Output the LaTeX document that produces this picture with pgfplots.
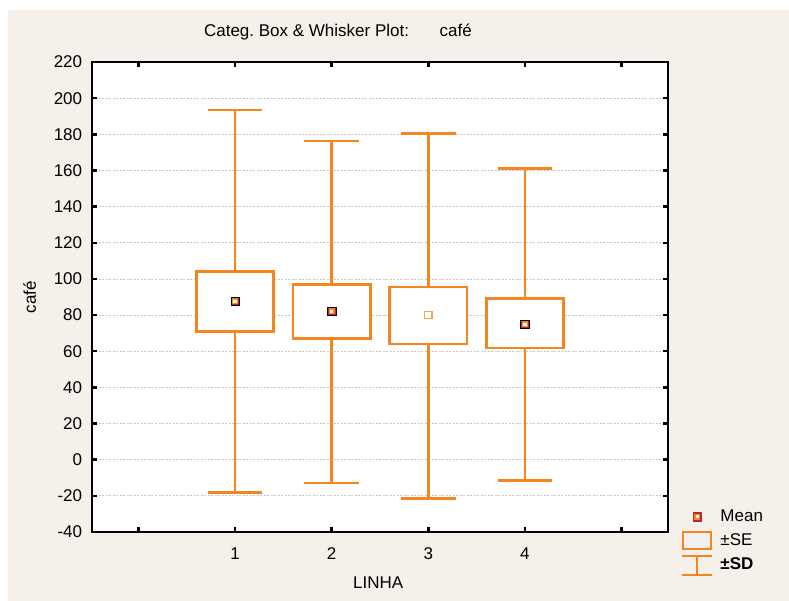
\documentclass[border=0pt]{standalone}
\usepackage{fontspec}
\setmainfont{Liberation Sans}
\usepackage{pgfplots}
\usepackage{pgfplotstable}
\pgfplotsset{compat=1.18}
\definecolor{boxorange}{RGB}{245,134,31}
\definecolor{meanred}{RGB}{185,40,48}
\definecolor{bgbeige}{RGB}{245,240,234}
\definecolor{gridgray}{RGB}{200,200,200}
\pgfplotstableread{
pos lw lq mean uq uw
1 -18.1 70.8 87.6 104.2 193.5
2 -12.8 67.2 82.1 97.0 176.4
3 -21.4 64.0 80.0 95.5 180.3
4 -11.4 61.7 75.0 89.2 161.2
}\cafe
\begin{document}
\frenchspacing
\fontsize{17}{20}\selectfont
\begin{tikzpicture}
\fill[white] (-92pt,-69pt) rectangle (697pt,532pt);
\fill[bgbeige] (-84pt,-69pt) rectangle (697pt,522pt);
\begin{axis}[
  at={(0pt,0pt)}, anchor=south west,
  scale only axis, width=576pt, height=470pt,
  xmin=-0.48, xmax=5.48, ymin=-40, ymax=220,
  xtick={0,1,2,3,4,5}, xticklabels={,1,2,3,4,},
  ytick={-40,-20,0,20,40,60,80,100,120,140,160,180,200,220},
  tick align=inside, major tick length=5pt,
  tick style={black, line width=2.4pt},
  axis line style={line width=2.4pt, black},
  ymajorgrids, grid style={gridgray, dash pattern=on 2pt off 1.5pt, line width=0.7pt},
  axis background/.style={fill=white},
  /pgf/number format/assume math mode=true,
  yticklabel style={xshift=-4pt},
  xticklabel style={yshift=-10pt},
  xlabel={LINHA}, ylabel={café},
  xlabel style={at={(axis description cs:0.497,-0.108)}, anchor=center},
  ylabel style={at={(axis description cs:-0.108,0.5)}, anchor=center},
  title={Categ. Box \& Whisker Plot:\hspace{1.8em}café},
  title style={at={(axis description cs:0.427,1.051)}, anchor=center, yshift=0pt},
  legend style={draw=none, fill=none, at={(axis description cs:1.022,0.052)}, anchor=north west,
    row sep=4.5pt, column sep=5pt, inner sep=0pt, cells={anchor=west}},
  legend cell align=left,
]
% whiskers (mean +/- SD)
\addplot[draw=none, mark=none, forget plot,
  error bars/.cd, y dir=both, y explicit,
  error bar style={boxorange, line width=2.6pt, solid},
  error mark=-, error mark options={boxorange, line width=2.6pt, mark size=27.3pt, rotate=90}]
  table[x=pos, y=mean, y error plus expr=\thisrow{uw}-\thisrow{mean},
        y error minus expr=\thisrow{mean}-\thisrow{lw}] {\cafe};
% boxes (mean +/- SE)
\addplot[draw=boxorange, fill=white, line width=2.6pt, line cap=rect, line join=miter, forget plot]
  coordinates {(0.6,70.8) (1.4,70.8) (1.4,104.2) (0.6,104.2) (0.6,70.8)};
\addplot[draw=boxorange, fill=white, line width=2.6pt, line cap=rect, line join=miter, forget plot]
  coordinates {(1.6,67.2) (2.4,67.2) (2.4,97.0) (1.6,97.0) (1.6,67.2)};
\addplot[draw=boxorange, fill=white, line width=2.6pt, line cap=rect, line join=miter, forget plot]
  coordinates {(2.6,64.0) (3.4,64.0) (3.4,95.5) (2.6,95.5) (2.6,64.0)};
\addplot[draw=boxorange, fill=white, line width=2.6pt, line cap=rect, line join=miter, forget plot]
  coordinates {(3.6,61.7) (4.4,61.7) (4.4,89.2) (3.6,89.2) (3.6,61.7)};
% means
\addplot[only marks, mark=square*, mark size=4.3pt, mark options={fill=meanred, draw=none},
  skip coords between index={2}{3}, forget plot] table[x=pos, y=mean] {\cafe};
\addplot[only marks, mark=square*, mark size=2.2pt, mark options={fill=white, draw=boxorange, line width=1.3pt},
  skip coords between index={2}{3}, forget plot] table[x=pos, y=mean] {\cafe};
\addplot[only marks, mark=square*, mark size=3.6pt, mark options={fill=white, draw=boxorange!75, line width=1.5pt},
  skip coords between index={0}{2}, skip coords between index={3}{4}, forget plot] table[x=pos, y=mean] {\cafe};
\addlegendimage{legend image code/.code={
  \fill[meanred] (11.7pt,-4.3pt) rectangle (20.3pt,4.3pt);
  \filldraw[fill=white, draw=boxorange, line width=1.3pt] (13.9pt,-2.1pt) rectangle (18.1pt,2.1pt);
  \path[draw=none, fill=none] (1pt,0pt) -- (31pt,0pt);}}
\addlegendentry{Mean}
\addlegendimage{legend image code/.code={
  \filldraw[fill=gray!12, draw=boxorange, line width=2.6pt] (2pt,-8pt) rectangle (30pt,9pt);}}
\addlegendentry{±SE}
\addlegendimage{legend image code/.code={
  \draw[boxorange, line width=2.6pt] (16pt,-10pt) -- (16pt,9pt)
    (1pt,9pt) -- (31pt,9pt) (1pt,-10pt) -- (31pt,-10pt);}}
\addlegendentry{\textbf{±SD}}
\end{axis}
\pgfresetboundingbox
\path (-92pt,-69pt) rectangle (697pt,532pt);
\end{tikzpicture}
\end{document}
